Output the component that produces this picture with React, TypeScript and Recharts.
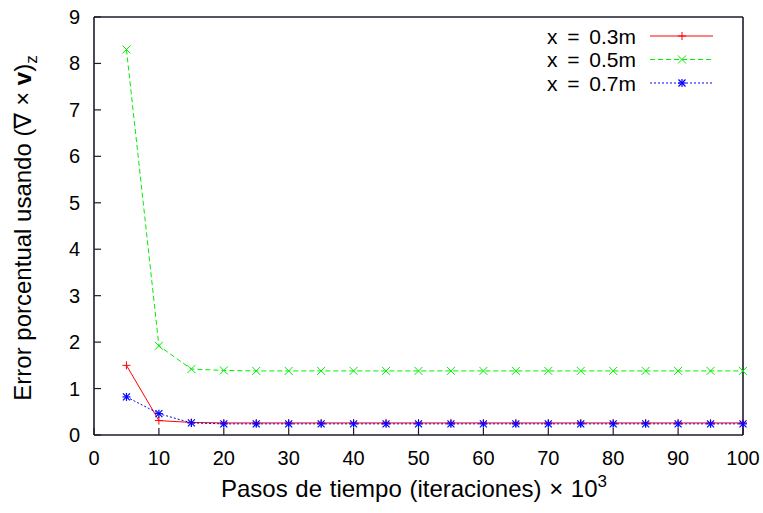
import React from "react";
import { LineChart, Line, XAxis, YAxis, Legend, Label, ReferenceLine } from "recharts";

const steps = [5, 10, 15, 20, 25, 30, 35, 40, 45, 50, 55, 60, 65, 70, 75, 80, 85, 90, 95, 100];
const err03 = [1.5, 0.31, 0.27, 0.26, 0.26, 0.26, 0.26, 0.26, 0.26, 0.26, 0.26, 0.26, 0.26, 0.26, 0.26, 0.26, 0.26, 0.26, 0.26, 0.26];
const err05 = [8.3, 1.92, 1.42, 1.39, 1.38, 1.38, 1.38, 1.38, 1.38, 1.38, 1.38, 1.38, 1.38, 1.38, 1.38, 1.38, 1.38, 1.38, 1.38, 1.38];
const err07 = [0.82, 0.46, 0.26, 0.24, 0.24, 0.24, 0.24, 0.24, 0.24, 0.24, 0.24, 0.24, 0.24, 0.24, 0.24, 0.24, 0.24, 0.24, 0.24, 0.24];
const xTicks = [0, 10, 20, 30, 40, 50, 60, 70, 80, 90, 100];
const yTicks = [0, 1, 2, 3, 4, 5, 6, 7, 8, 9];
const seriesNames = ["x = 0.3m", "x = 0.5m", "x = 0.7m"];

const data = steps.map((s, i) => ({ s, a: err03[i], b: err05[i], c: err07[i] }));

const FONT = "'Liberation Sans', Arial, Helvetica, sans-serif";
const RED = "#ff0000";
const GREEN = "#00ee00";
const BLUE = "#0000ff";
const INK = "#1c1c2e";
const T = 7;

const Plus = ({ cx, cy, c }: any) => (
  <g stroke={c} strokeWidth={1}>
    <line x1={cx - 4} y1={cy} x2={cx + 4} y2={cy} />
    <line x1={cx} y1={cy - 4} x2={cx} y2={cy + 4} />
  </g>
);
const Cross = ({ cx, cy, c }: any) => (
  <g stroke={c} strokeWidth={1}>
    <line x1={cx - 4} y1={cy - 4} x2={cx + 4} y2={cy + 4} />
    <line x1={cx - 4} y1={cy + 4} x2={cx + 4} y2={cy - 4} />
  </g>
);
const Star = ({ cx, cy, c }: any) => (
  <g stroke={c} strokeWidth={1.2}>
    <line x1={cx - 4} y1={cy} x2={cx + 4} y2={cy} />
    <line x1={cx} y1={cy - 4} x2={cx} y2={cy + 4} />
    <line x1={cx - 3.5} y1={cy - 3.5} x2={cx + 3.5} y2={cy + 3.5} />
    <line x1={cx - 3.5} y1={cy + 3.5} x2={cx + 3.5} y2={cy - 3.5} />
  </g>
);

const BottomTick = (props: any) => {
  const { x, y, payload } = props;
  return (
    <g>
      <line x1={x} y1={y} x2={x} y2={y - T} stroke={INK} strokeWidth={1.2} />
      <text x={x} y={y + 30} textAnchor="middle" fontFamily={FONT} fontSize={20} fill="#000">{payload.value}</text>
    </g>
  );
};
const TopTick = (props: any) => {
  const { x, y } = props;
  return <line x1={x} y1={y} x2={x} y2={y + T} stroke={INK} strokeWidth={1.2} />;
};
const LeftTick = (props: any) => {
  const { x, y, payload } = props;
  return (
    <g>
      <line x1={x} y1={y} x2={x + T} y2={y} stroke={INK} strokeWidth={1.2} />
      <text x={x - 14} y={y + 7} textAnchor="end" fontFamily={FONT} fontSize={20} fill="#000">{payload.value}</text>
    </g>
  );
};
const RightTick = (props: any) => {
  const { x, y } = props;
  return <line x1={x} y1={y} x2={x - T} y2={y} stroke={INK} strokeWidth={1.2} />;
};

const LegendBox = () => {
  const rows = [
    { name: seriesNames[0], c: RED, dash: undefined, M: Plus },
    { name: seriesNames[1], c: GREEN, dash: "5 3", M: Cross },
    { name: seriesNames[2], c: BLUE, dash: "2 2", M: Star },
  ];
  return (
    <svg width={763} height={100} style={{ display: "block", overflow: "visible" }}>
      {rows.map((r, i) => {
        const cy = 36 + i * 23.5;
        return (
          <g key={i}>
            <text x={636} y={cy + 7.5} textAnchor="end" fontFamily={FONT} fontSize={21} wordSpacing={4} fill="#000">{r.name}</text>
            <line x1={650} y1={cy} x2={713} y2={cy} stroke={r.c} strokeWidth={1} strokeDasharray={r.dash} />
            <r.M cx={682} cy={cy} c={r.c} />
          </g>
        );
      })}
    </svg>
  );
};

export default function App() {
  return (
    <div style={{ position: "absolute", left: 0, top: 0, width: 763, height: 513, background: "#fff" }}>
      <LineChart width={763} height={513} data={data} margin={{ top: 17, right: 20, left: 0, bottom: 0 }}>
        <XAxis xAxisId="b" dataKey="s" type="number" domain={[0, 100]} ticks={xTicks} height={78}
          tickSize={0} tickMargin={0} tick={BottomTick} axisLine={false} tickLine={false} interval={0}>
          <Label
            content={() => (
              <text x={414} y={497} textAnchor="middle" fontFamily={FONT} fontSize={24} wordSpacing={1} fill="#000">
                Pasos de tiempo (iteraciones) × 10
                <tspan dy={-10} fontSize={17}>3</tspan>
              </text>
            )}
          />
        </XAxis>
        <XAxis xAxisId="t" orientation="top" dataKey="s" type="number" domain={[0, 100]} ticks={xTicks} height={0}
          tickSize={0} tickMargin={0} tick={TopTick} axisLine={false} tickLine={false} interval={0} />
        <YAxis yAxisId="l" type="number" domain={[0, 9]} ticks={yTicks} width={94}
          tickSize={0} tickMargin={0} tick={LeftTick} axisLine={false} tickLine={false} interval={0}>
          <Label
            content={() => (
              <text transform="translate(31,228) rotate(-90)" x={0} y={0} textAnchor="middle" fontFamily={FONT} fontSize={24} fill="#000">
                Error porcentual usando (∇ × <tspan fontWeight="bold">v</tspan>)<tspan dy={6} fontSize={17}>z</tspan>
              </text>
            )}
          />
        </YAxis>
        <YAxis yAxisId="r" orientation="right" type="number" domain={[0, 9]} ticks={yTicks} width={0}
          tickSize={0} tickMargin={0} tick={RightTick} axisLine={false} tickLine={false} interval={0} />
        <ReferenceLine xAxisId="b" yAxisId="l" x={0} stroke={INK} strokeWidth={1.6} />
        <ReferenceLine xAxisId="b" yAxisId="l" x={100} stroke={INK} strokeWidth={1.6} />
        <ReferenceLine xAxisId="b" yAxisId="l" y={0} stroke={INK} strokeWidth={1.6} />
        <ReferenceLine xAxisId="b" yAxisId="l" y={9} stroke={INK} strokeWidth={1.6} />
        <Legend content={() => <LegendBox />}
          wrapperStyle={{ position: "absolute", left: 0, top: 0, width: 0, height: 0, overflow: "visible" }} />
        <Line xAxisId="b" yAxisId="l" dataKey="a" name={seriesNames[0]} stroke={RED} strokeWidth={1} isAnimationActive={false}
          dot={(p: any) => <Plus key={`a${p.index}`} cx={p.cx} cy={p.cy} c={RED} />} activeDot={false} />
        <Line xAxisId="b" yAxisId="l" dataKey="b" name={seriesNames[1]} stroke={GREEN} strokeWidth={1} strokeDasharray="5 3" isAnimationActive={false}
          dot={(p: any) => <Cross key={`b${p.index}`} cx={p.cx} cy={p.cy} c={GREEN} />} activeDot={false} />
        <Line xAxisId="b" yAxisId="l" dataKey="c" name={seriesNames[2]} stroke={BLUE} strokeWidth={1} strokeDasharray="2 2" isAnimationActive={false}
          dot={(p: any) => <Star key={`c${p.index}`} cx={p.cx} cy={p.cy} c={BLUE} />} activeDot={false} />
      </LineChart>
    </div>
  );
}
